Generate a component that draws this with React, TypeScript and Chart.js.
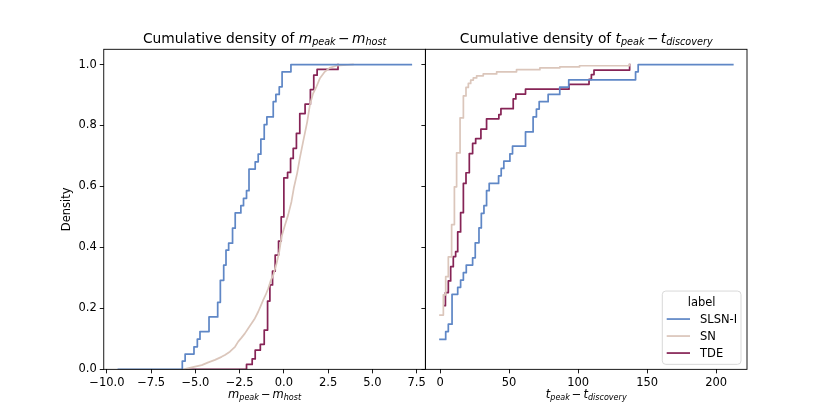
import { useEffect, useRef } from 'react'
import { Chart, registerables } from 'chart.js'

Chart.register(...registerables)

const FONT = '"DejaVu Sans", sans-serif'
Chart.defaults.font.family = FONT

const labels = ['SLSN-I', 'SN', 'TDE']
const colors = ['#5f87c6', '#dbc6bb', '#862456']

const densityTicks = [0, 0.2, 0.4, 0.6, 0.8, 1.0]
const magTicks = [-10, -7.5, -5, -2.5, 0, 2.5, 5, 7.5]
const timeTicks = [0, 50, 100, 150, 200]

// m_peak - m_host, ECDF steps (x, level after the jump)
const magSlsnX = [-9.35, -5.74, -5.58, -5.08, -4.89, -4.74, -4.23, -3.74, -3.59, -3.4, -3.27, -3.12, -2.9, -2.75, -2.43, -2.28, -2.11, -1.97, -1.62, -1.45, -1.3, -1.11, -0.96, -0.6, -0.45, -0.26, -0.1, 0.4, 7.2]
const magSlsnY = [0, 0.027, 0.05, 0.074, 0.099, 0.124, 0.172, 0.22, 0.292, 0.342, 0.391, 0.414, 0.463, 0.513, 0.537, 0.561, 0.586, 0.657, 0.681, 0.706, 0.755, 0.803, 0.828, 0.878, 0.902, 0.927, 0.976, 1.0, 1.0]
const magSnX = [-5.68, -5.02, -4.64, -4.27, -3.89, -3.52, -3.33, -3.05, -2.76, -2.58, -2.39, -2.2, -2.01, -1.82, -1.64, -1.45, -1.3, -1.17, -1.03, -0.88, -0.75, -0.6, -0.41, -0.26, -0.13, 0.06, 0.24, 0.43, 0.56, 0.75, 0.9, 1.09, 1.32, 1.47, 1.65, 1.84, 2.03, 2.31, 2.59, 2.97, 3.9]
const magSnY = [0, 0.009, 0.014, 0.023, 0.031, 0.041, 0.047, 0.058, 0.074, 0.091, 0.104, 0.118, 0.135, 0.151, 0.167, 0.189, 0.209, 0.227, 0.244, 0.266, 0.29, 0.309, 0.348, 0.386, 0.435, 0.473, 0.506, 0.55, 0.594, 0.643, 0.692, 0.747, 0.812, 0.867, 0.905, 0.927, 0.954, 0.976, 0.989, 0.996, 1.0]
const magTdeX = [-5.5, -2.11, -1.79, -1.62, -1.33, -1.11, -0.92, -0.79, -0.64, -0.49, -0.3, -0.15, 0.0, 0.21, 0.38, 0.53, 0.71, 0.9, 1.2, 1.5, 1.69, 1.88, 3.06]
const magTdeY = [0, 0.016, 0.034, 0.063, 0.082, 0.129, 0.224, 0.277, 0.322, 0.375, 0.421, 0.5, 0.628, 0.646, 0.692, 0.725, 0.774, 0.839, 0.87, 0.918, 0.965, 0.984, 1.0]

// t_peak - t_discovery
const timeSlsnX = [0, 4.1, 6.0, 8.7, 12.8, 14.9, 16.9, 19.0, 23.6, 25.5, 28.2, 29.9, 31.8, 33.7, 35.6, 42.4, 44.3, 46.2, 50.6, 52.5, 61.9, 67.4, 69.8, 71.8, 78.3, 86.7, 93.2, 141.6, 143.5, 212]
const timeSlsnY = [0.098, 0.124, 0.148, 0.246, 0.269, 0.293, 0.317, 0.342, 0.366, 0.415, 0.464, 0.512, 0.537, 0.586, 0.61, 0.635, 0.659, 0.683, 0.707, 0.732, 0.779, 0.828, 0.854, 0.878, 0.902, 0.926, 0.95, 0.976, 1.0, 1.0]
const timeSnX = [0, 2.4, 4.1, 6.0, 8.4, 10.4, 12.0, 14.5, 16.9, 18.8, 20.5, 22.2, 24.1, 26.5, 31.3, 41.0, 55.4, 72.3, 86.7, 101, 137.3]
const timeSnY = [0.178, 0.244, 0.304, 0.369, 0.475, 0.599, 0.71, 0.825, 0.897, 0.925, 0.938, 0.949, 0.956, 0.963, 0.969, 0.976, 0.983, 0.989, 0.992, 0.996, 1.0]
const timeTdeX = [2.9, 3.9, 6.0, 7.7, 9.6, 11.3, 12.8, 14.9, 16.9, 18.8, 21.2, 23.6, 25.8, 29.6, 33.7, 42.6, 44.1, 53.0, 54.9, 61.9, 93.4, 107.9, 109.6, 111.5, 137.3]
const timeTdeY = [0.209, 0.252, 0.29, 0.337, 0.37, 0.386, 0.451, 0.514, 0.61, 0.645, 0.708, 0.741, 0.757, 0.788, 0.822, 0.836, 0.855, 0.887, 0.903, 0.919, 0.935, 0.951, 0.967, 0.982, 1.0]

type Seg = { t: string; it?: boolean; sub?: boolean; pad?: number }

const magTitle: Seg[] = [{ t: 'Cumulative density of ' }, { t: 'm', it: true }, { t: 'peak', it: true, sub: true }, { t: '\u2212', pad: 0.17 }, { t: 'm', it: true }, { t: 'host', it: true, sub: true }]
const magLabel: Seg[] = magTitle.slice(1)
const timeTitle: Seg[] = [{ t: 'Cumulative density of ' }, { t: 't', it: true }, { t: 'peak', it: true, sub: true }, { t: '\u2212', pad: 0.17 }, { t: 't', it: true }, { t: 'discovery', it: true, sub: true }]
const timeLabel: Seg[] = timeTitle.slice(1)

function drawSegs(ctx: CanvasRenderingContext2D, segs: Seg[], cx: number, base: number, size: number) {
  const fontOf = (s: Seg) => `${s.it ? 'italic ' : ''}${s.sub ? size * 0.7 : size}px ${FONT}`
  const widths = segs.map(s => {
    ctx.font = fontOf(s)
    return ctx.measureText(s.t).width + 2 * (s.pad ?? 0) * size
  })
  let x = cx - widths.reduce((a, b) => a + b, 0) / 2
  ctx.textAlign = 'left'
  ctx.textBaseline = 'alphabetic'
  ctx.fillStyle = '#000'
  segs.forEach((s, i) => {
    ctx.font = fontOf(s)
    ctx.fillText(s.t, x + (s.pad ?? 0) * size, base + (s.sub ? size * 0.17 : 0))
    x += widths[i]
  })
}

const toPoints = (xs: number[], ys: number[]) => xs.map((x, i) => ({ x, y: ys[i] }))

interface PanelProps {
  left: number
  width: number
  xMin: number
  xMax: number
  xTicks: number[]
  xFmt: (v: number) => string
  series: [number[], number[]][]
  // dense ECDFs read as a smooth trace are drawn with straight segments
  smooth: boolean[]
  title: Seg[]
  xlabel: Seg[]
  yAxisWidth: number
  padRight: number
  ylabel?: boolean
  legend?: boolean
}

function CdfPanel(p: PanelProps) {
  const ref = useRef<HTMLCanvasElement>(null)

  useEffect(() => {
    if (!ref.current) return

    const mpl = {
      id: 'mpl',
      afterDraw(chart: Chart) {
        const { ctx, chartArea: a } = chart
        ctx.save()
        ctx.strokeStyle = '#000'
        ctx.lineWidth = 0.9
        ctx.strokeRect(a.left, a.top, a.right - a.left, a.bottom - a.top)
        const cx = (a.left + a.right) / 2
        drawSegs(ctx, p.title, cx, a.top - 6.6, 13.8)
        drawSegs(ctx, p.xlabel, cx, a.bottom + 28.2, 11.5)
        if (p.ylabel) {
          ctx.save()
          ctx.translate(70, (a.top + a.bottom) / 2)
          ctx.rotate(-Math.PI / 2)
          ctx.font = `11.5px ${FONT}`
          ctx.textAlign = 'center'
          ctx.textBaseline = 'alphabetic'
          ctx.fillText('Density', 0, 0)
          ctx.restore()
        }
        if (p.legend) {
          const bw = 78.7, bh = 73.3
          const bx = a.right - 6 - bw, by = a.bottom - 5 - bh
          ctx.beginPath()
          ctx.roundRect(bx, by, bw, bh, 3.5)
          ctx.fillStyle = 'rgba(255,255,255,0.8)'
          ctx.fill()
          ctx.strokeStyle = '#d5d5d5'
          ctx.lineWidth = 0.9
          ctx.stroke()
          ctx.fillStyle = '#000'
          ctx.font = `11.5px ${FONT}`
          ctx.textAlign = 'center'
          ctx.fillText('label', bx + bw / 2, by + 14.7)
          ctx.textAlign = 'left'
          chart.data.datasets.forEach((ds, i) => {
            const base = by + 32.3 + i * 17
            ctx.strokeStyle = ds.borderColor as string
            ctx.lineWidth = 1.73
            ctx.beginPath()
            ctx.moveTo(bx + 4.4, base - 4.3)
            ctx.lineTo(bx + 27.7, base - 4.3)
            ctx.stroke()
            ctx.fillStyle = '#000'
            ctx.fillText(ds.label as string, bx + 37.7, base)
          })
        }
        ctx.restore()
      },
    }

    const tickFont = { family: FONT, size: 11.5 }
    const grid = { drawOnChartArea: false, drawTicks: true, tickLength: 4, color: '#000', lineWidth: 0.9 }

    const chart = new Chart(ref.current, {
      type: 'line',
      data: {
        datasets: p.series.map(([xs, ys], i) => ({
          label: labels[i],
          data: toPoints(xs, ys),
          borderColor: colors[i],
          borderWidth: 1.73,
          borderCapStyle: 'square' as const,
          borderJoinStyle: 'round' as const,
          stepped: p.smooth[i] ? false : ('before' as const),
          tension: 0,
          pointRadius: 0,
          fill: false,
        })),
      },
      options: {
        responsive: false,
        animation: false,
        events: [],
        layout: { padding: { left: 0, right: p.padRight, top: 49.3, bottom: 0 } },
        plugins: { legend: { display: false }, tooltip: { enabled: false } },
        scales: {
          x: {
            type: 'linear',
            min: p.xMin,
            max: p.xMax,
            grid,
            border: { display: false },
            afterBuildTicks: (axis: any) => { axis.ticks = p.xTicks.map(value => ({ value })) },
            afterFit: (axis: any) => { axis.height = 45.65 },
            ticks: {
              autoSkip: false,
              maxRotation: 0,
              padding: 3,
              color: '#000',
              font: tickFont,
              callback: (v: any) => p.xFmt(Number(v)),
            },
          },
          y: {
            type: 'linear',
            min: 0,
            max: 1.05,
            grid,
            border: { display: false },
            afterBuildTicks: (axis: any) => { axis.ticks = densityTicks.map(value => ({ value })) },
            afterFit: (axis: any) => { axis.width = p.yAxisWidth },
            ticks: {
              padding: 3,
              color: '#000',
              font: tickFont,
              callback: (v: any) => (p.ylabel ? Number(v).toFixed(1) : ''),
            },
          },
        },
      },
      plugins: [mpl],
    })
    return () => chart.destroy()
  }, [p])

  return (
    <canvas
      ref={ref}
      width={p.width}
      height={415}
      style={{ position: 'absolute', left: p.left, top: 0, width: p.width, height: 415 }}
    />
  )
}

const minus = (s: string) => s.replace('-', '\u2212')

const magPanel: PanelProps = {
  left: 0,
  width: 430,
  xMin: -10.18,
  xMax: 8.0,
  xTicks: magTicks,
  xFmt: v => minus(v.toFixed(1)),
  series: [[magSlsnX, magSlsnY], [magSnX, magSnY], [magTdeX, magTdeY]],
  smooth: [false, true, false],
  title: magTitle,
  xlabel: magLabel,
  yAxisWidth: 103.75,
  padRight: 4.6,
  ylabel: true,
}

const timePanel: PanelProps = {
  left: 400,
  width: 360,
  xMin: -10.6,
  xMax: 222.3,
  xTicks: timeTicks,
  xFmt: v => minus(v.toFixed(0)),
  series: [[timeSlsnX, timeSlsnY], [timeSnX, timeSnY], [timeTdeX, timeTdeY]],
  smooth: [false, false, false],
  title: timeTitle,
  xlabel: timeLabel,
  yAxisWidth: 25.4,
  padRight: 13,
  legend: true,
}

export default function App() {
  return (
    <div style={{ position: 'absolute', left: 0, top: 0, width: 830, height: 415, background: '#fff' }}>
      <CdfPanel {...magPanel} />
      <CdfPanel {...timePanel} />
    </div>
  )
}
